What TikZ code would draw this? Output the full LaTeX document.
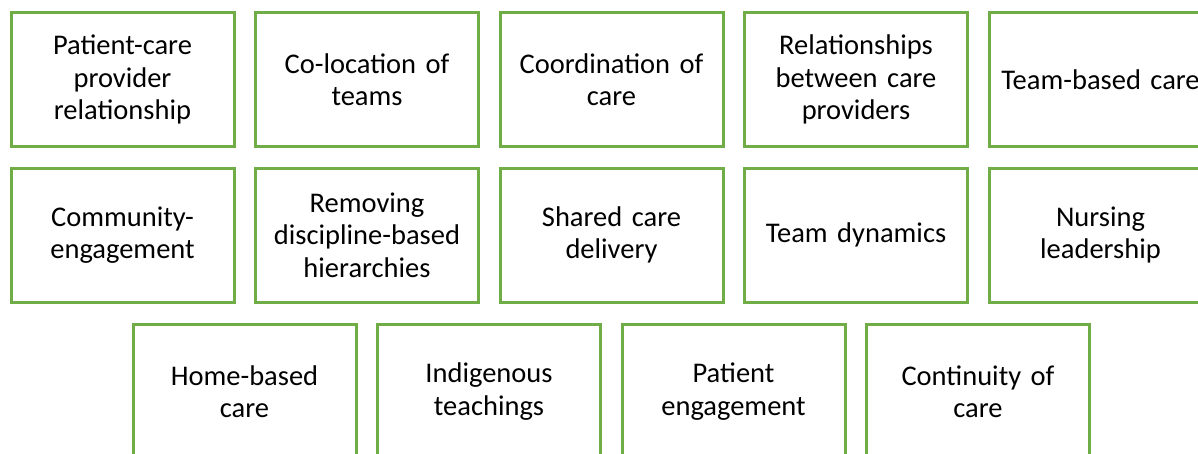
\documentclass[tikz,border=0pt]{standalone}
\usepackage{fontspec}
\setmainfont{Carlito}
\definecolor{boxgreen}{RGB}{112,173,71}
\tikzset{
  cbox/.style={draw=boxgreen, line width=3pt, minimum width=223pt, minimum height=134pt,
    align=center, text width=222pt, inner sep=0pt,
    font=\fontsize{28.5}{32.5}\selectfont, text=black}
}
\begin{document}
\begin{tikzpicture}[x=1pt,y=-1pt]
\useasboundingbox (0,0) rectangle (1198,453);
\clip (0,0) rectangle (1198,453);
\fill[white] (0,0) rectangle (1198,453);
\node[cbox] (a1) at (122.5,79.5) {Patient-care\\provider\\relationship};
\node[cbox] (a2) at (367,79.5) {Co-location of\\teams};
\node[cbox] (a3) at (611.5,79.5) {Coordination of\\care};
\node[cbox] (a4) at (856,79.5) {Relationships\\between care\\providers};
\node[cbox] (a5) at (1100.5,79.5) {Team-based care};
\node[cbox] (b1) at (122.5,235) {Community-\\engagement};
\node[cbox] (b2) at (367,235) {Removing\\discipline-based\\hierarchies};
\node[cbox] (b3) at (611.5,235) {Shared care\\delivery};
\node[cbox] (b4) at (856,235) {Team dynamics};
\node[cbox] (b5) at (1100.5,235) {Nursing\\leadership};
\node[cbox] (c1) at (244.5,391.5) {Home-based\\care};
\node[cbox] (c2) at (489,391.5) {Indigenous\\teachings};
\node[cbox] (c3) at (733.5,391.5) {Patient\\engagement};
\node[cbox] (c4) at (978,391.5) {Continuity of\\care};
\end{tikzpicture}
\end{document}
